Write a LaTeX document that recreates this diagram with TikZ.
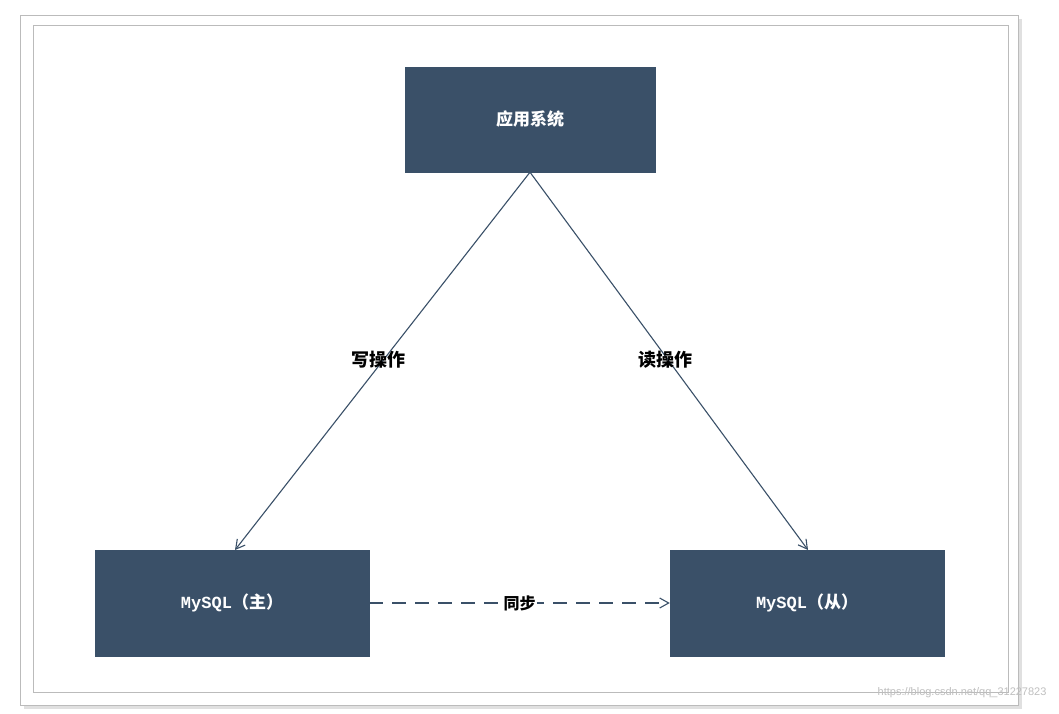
\documentclass[tikz,border=0pt]{standalone}
\usepackage{fontspec}
\setmainfont{Liberation Sans}
\newfontfamily\cjk{Noto Sans CJK SC}
\newfontfamily\monofont{Liberation Mono}
\usetikzlibrary{arrows.meta}
\definecolor{boxblue}{HTML}{3A5068}
\definecolor{framegray}{HTML}{BBBBBB}
\tikzset{
  sysbox/.style={draw=boxblue,fill=boxblue,text=white,minimum width=250pt,
    minimum height=105pt,font=\cjk\bfseries\fontsize{17}{20}\selectfont},
  dbbox/.style={sysbox,minimum width=274pt,minimum height=106pt,
    font=\monofont\bfseries\fontsize{17}{20}\selectfont},
  link/.style={draw=boxblue,line width=1.1pt,-{Straight Barb[length=9pt,width=10pt]}},
  oplabel/.style={font=\cjk\bfseries\fontsize{18}{21}\selectfont,text=black}
}
\begin{document}
\begin{tikzpicture}[x=1pt,y=-1pt]
  \useasboundingbox (0,0) rectangle (1059,713);
  % frames
  \fill[black!12] (24,19) rectangle (1022,709);
  \draw[framegray,fill=white] (20,15) rectangle (1018,705);
  \draw[framegray] (33,25) rectangle (1008,692);
  % boxes
  \node[sysbox] (app) at (530,119.5) {应用系统};
  \node[dbbox] (master) at (232,603) {MySQL{\cjk（主）}};
  \node[dbbox] (slave) at (807,603) {MySQL{\cjk（从）}};
  % links
  \draw[link] (app.south) -- (235,550) coordinate (mtop);
  \draw[link] (app.south) -- (808,550) coordinate (stop);
  \node[oplabel] (wlab) at (378,360) {写操作};
  \node[oplabel] (rlab) at (665,360) {读操作};
  \draw[link,dash pattern=on 14pt off 9pt] (master.east) -- (slave.west)
    node[midway,fill=white,inner sep=1pt,font=\cjk\bfseries\fontsize{16}{19}\selectfont]{同步};
  % watermark
  \node[text=black!25,font=\fontsize{11}{13}\selectfont,anchor=east] (wm) at (1050,693)
    {https://blog.csdn.net/qq\_31227823};
\end{tikzpicture}
\end{document}
